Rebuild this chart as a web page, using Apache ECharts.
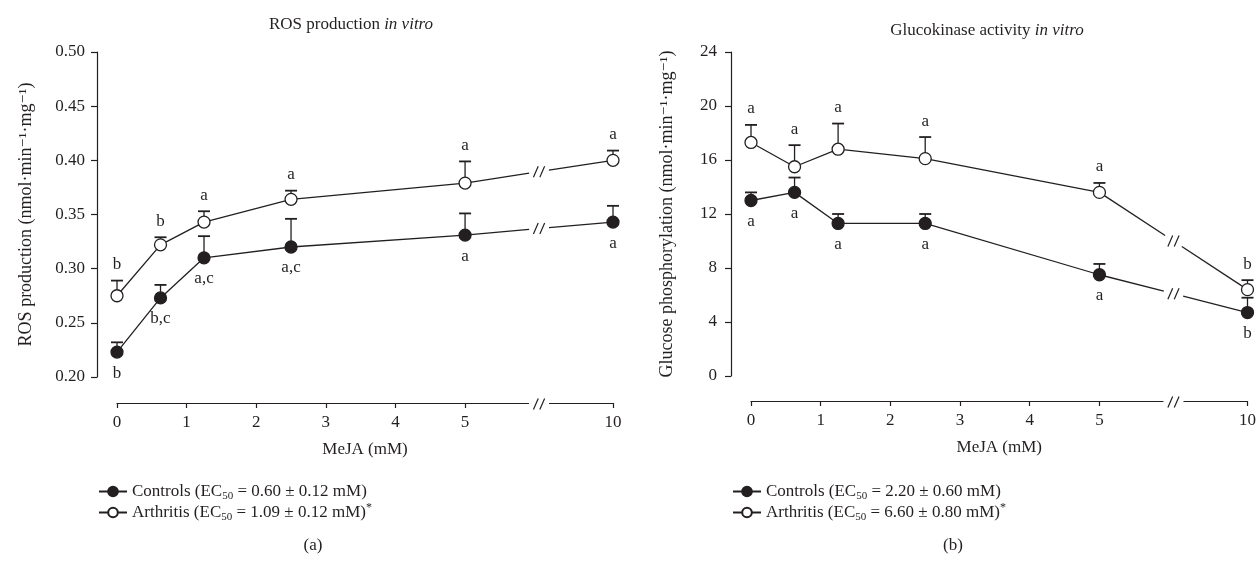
<!DOCTYPE html>
<html><head><meta charset="utf-8">
<script src="https://cdn.jsdelivr.net/npm/echarts@6/dist/echarts.min.js"></script>
<style>html,body{margin:0;padding:0;background:#fff}#c{width:1259px;height:573px}</style>
</head><body><div id="c"></div>
<script>
// ---------- data ----------
const doses = [0, 0.625, 1.25, 2.5, 5, 10];              // MeJA (mM)
const xTickValues = [0, 1, 2, 3, 4, 5, 10];
const xTickLabels = ['0', '1', '2', '3', '4', '5', '10'];

const rosControls      = [0.223, 0.273, 0.310, 0.320, 0.331, 0.343];
const rosControlsErr   = [0.009, 0.012, 0.020, 0.026, 0.020, 0.015];
const rosArthritis     = [0.275, 0.322, 0.343, 0.364, 0.379, 0.400];
const rosArthritisErr  = [0.014, 0.007, 0.010, 0.008, 0.020, 0.009];
const rosControlsLetters  = ['b', 'b,c', 'a,c', 'a,c', 'a', 'a'];
const rosArthritisLetters = ['b', 'b', 'a', 'a', 'a', 'a'];
const rosYTicks = [0.20, 0.25, 0.30, 0.35, 0.40, 0.45, 0.50];

const gkControls      = [13.0, 13.6, 11.3, 11.3, 7.5, 4.7];
const gkControlsErr   = [0.6, 1.1, 0.7, 0.7, 0.8, 1.1];
const gkArthritis     = [17.3, 15.5, 16.8, 16.1, 13.6, 6.4];
const gkArthritisErr  = [1.3, 1.6, 1.9, 1.6, 0.7, 0.7];
const gkControlsLetters  = ['a', 'a', 'a', 'a', 'a', 'b'];
const gkArthritisLetters = ['a', 'a', 'a', 'a', 'a', 'b'];
const gkYTicks = [0, 4, 8, 12, 16, 20, 24];

const groupNames = ['Controls', 'Arthritis'];
const rosEC50 = ['0.60 ± 0.12', '1.09 ± 0.12'];
const gkEC50  = ['2.20 ± 0.60', '6.60 ± 0.80'];
const significant = [false, true];

// ---------- broken x axis mapping ----------
const BREAK_FROM = 5;        // last dose before the break
const FAR_DOSE = 10;         // dose after the break
const FAR_POS = 7.125;       // where dose 10 sits on the compressed axis
const BREAK_MID = (BREAK_FROM + FAR_POS) / 2;
function axisPos(d) { return d <= BREAK_FROM ? d : FAR_POS + (d - FAR_DOSE); }
function posLabel(v) {
  for (let i = 0; i < xTickValues.length; i++) {
    if (Math.abs(axisPos(xTickValues[i]) - v) < 1e-6) return xTickLabels[i];
  }
  return '';
}

const INK = '#231f20';
const FONT = "'Liberation Serif','DejaVu Serif',serif";
const FS = 17;

const panels = [
  {
    key: 'ROS', grid: {left: 117, top: 52, width: 496, height: 325},
    yTicks: rosYTicks, yFmt: v => v.toFixed(2), yName: 'ROS production (nmol·min⁻¹·mg⁻¹)',
    yNameGap: 62, yLabelMargin: 12, xOffset: 26,
    controls: rosControls, controlsErr: rosControlsErr, controlsLetters: rosControlsLetters,
    arthritis: rosArthritis, arthritisErr: rosArthritisErr, arthritisLetters: rosArthritisLetters,
    ec50: rosEC50
  },
  {
    key: 'GK', grid: {left: 751, top: 52, width: 497, height: 324},
    yTicks: gkYTicks, yFmt: v => String(v), yName: 'Glucose phosphorylation (nmol·min⁻¹·mg⁻¹)',
    yNameGap: 55, yLabelMargin: 14, xOffset: 25,
    controls: gkControls, controlsErr: gkControlsErr, controlsLetters: gkControlsLetters,
    arthritis: gkArthritis, arthritisErr: gkArthritisErr, arthritisLetters: gkArthritisLetters,
    ec50: gkEC50
  }
];

function errorBarSeries(pi, vals, errs, letters, above) {
  return {
    type: 'custom', xAxisIndex: pi, yAxisIndex: pi, z: 1, clip: false, silent: true,
    data: doses.map((d, i) => [axisPos(d), vals[i], errs[i]]),
    renderItem: function (params, api) {
      const x = api.value(0), y = api.value(1), e = api.value(2);
      const p = api.coord([x, y]);
      const t = api.coord([x, y + e]);
      const letter = letters[params.dataIndex];
      return {
        type: 'group',
        children: [
          {type: 'line', shape: {x1: p[0], y1: p[1], x2: t[0], y2: t[1]}, style: {stroke: INK, lineWidth: 1.3}},
          {type: 'line', shape: {x1: t[0] - 6, y1: t[1], x2: t[0] + 6, y2: t[1]}, style: {stroke: INK, lineWidth: 1.8}},
          {type: 'text', style: {text: letter, x: p[0], y: above ? t[1] - 16 : p[1] + 21,
            align: 'center', verticalAlign: 'middle', fontFamily: FONT, fontSize: FS, fill: INK}}
        ]
      };
    }
  };
}

function slashes(cx, cy) {
  return [-3.2, 3.2].map(dx => ({
    type: 'line', shape: {x1: cx + dx - 2.4, y1: cy + 5.5, x2: cx + dx + 2.4, y2: cy - 5.5},
    style: {stroke: INK, lineWidth: 1.2}
  }));
}

function breakSeries(pi, panel) {
  const n = doses.length;
  const data = [panel.controls, panel.arthritis].map(v => [axisPos(doses[n - 2]), v[n - 2], axisPos(doses[n - 1]), v[n - 1]]);
  return {
    type: 'custom', xAxisIndex: pi, yAxisIndex: pi, z: 2, clip: false, silent: true,
    data: data,
    renderItem: function (params, api) {
      const a = api.coord([api.value(0), api.value(1)]);
      const b = api.coord([api.value(2), api.value(3)]);
      const dx = b[0] - a[0], dy = b[1] - a[1], L = Math.hypot(dx, dy);
      const ux = dx / L, uy = dy / L;
      const m = [(a[0] + b[0]) / 2, (a[1] + b[1]) / 2];
      const g = 10;
      return {
        type: 'group',
        children: [
          {type: 'line', shape: {x1: a[0], y1: a[1], x2: m[0] - g * ux, y2: m[1] - g * uy}, style: {stroke: INK, lineWidth: 1.3}},
          {type: 'line', shape: {x1: m[0] + g * ux, y1: m[1] + g * uy, x2: b[0], y2: b[1]}, style: {stroke: INK, lineWidth: 1.3}}
        ].concat(slashes(m[0], m[1]))
      };
    }
  };
}

function axisBreakSeries(pi, panel) {
  const yMin = panel.yTicks[0];
  return {
    type: 'custom', xAxisIndex: pi, yAxisIndex: pi, z: 5, clip: false, silent: true,
    data: [[BREAK_MID, yMin]],
    renderItem: function (params, api) {
      const p = api.coord([api.value(0), api.value(1)]);
      const y = p[1] + panel.xOffset;
      return {
        type: 'group',
        children: [
          {type: 'rect', shape: {x: p[0] - 10, y: y - 3, width: 20, height: 6}, style: {fill: '#fff'}}
        ].concat(slashes(p[0], y + 1))
      };
    }
  };
}

function lineSeries(pi, name, vals, filled) {
  const pts = doses.map((d, i) => [axisPos(d), vals[i]]);
  const data = pts.slice(0, -1).concat([[BREAK_MID, '-'], pts[pts.length - 1]]);
  return {
    name: name, type: 'line', xAxisIndex: pi, yAxisIndex: pi, z: 3, clip: false,
    data: data, symbol: 'circle', symbolSize: 12, showAllSymbol: true, connectNulls: false,
    lineStyle: {color: INK, width: 1.3},
    itemStyle: {color: filled ? INK : '#fff', borderColor: INK, borderWidth: 1.3},
    emphasis: {disabled: true}, animation: false
  };
}

const grids = [], xAxes = [], yAxes = [], series = [], legends = [];
panels.forEach((pn, pi) => {
  grids.push(Object.assign({}, pn.grid));
  xAxes.push({
    type: 'value', gridIndex: pi, min: 0, max: FAR_POS, offset: pn.xOffset, position: 'bottom',
    name: 'MeJA (mM)', nameLocation: 'middle', nameGap: 38,
    nameTextStyle: {fontFamily: FONT, fontSize: FS, color: INK},
    axisLine: {show: true, onZero: false, lineStyle: {color: INK, width: 1.2}},
    axisTick: {show: true, length: 5, lineStyle: {color: INK, width: 1.2}, customValues: xTickValues.map(axisPos)},
    axisLabel: {fontFamily: FONT, fontSize: FS, color: INK, margin: 11, customValues: xTickValues.map(axisPos), formatter: posLabel},
    splitLine: {show: false}
  });
  yAxes.push({
    type: 'value', gridIndex: pi, min: pn.yTicks[0], max: pn.yTicks[pn.yTicks.length - 1],
    interval: pn.yTicks[1] - pn.yTicks[0], offset: 20, position: 'left',
    name: pn.yName, nameLocation: 'middle', nameRotate: 90, nameGap: pn.yNameGap,
    nameTextStyle: {fontFamily: FONT, fontSize: 18, color: INK},
    axisLine: {show: true, onZero: false, lineStyle: {color: INK, width: 1.2}},
    axisTick: {show: true, length: 6, lineStyle: {color: INK, width: 1.2}},
    axisLabel: {fontFamily: FONT, fontSize: FS, color: INK, margin: pn.yLabelMargin, formatter: pn.yFmt},
    splitLine: {show: false}
  });
  const nC = pn.key + ' ' + groupNames[0], nA = pn.key + ' ' + groupNames[1];
  series.push(errorBarSeries(pi, pn.controls, pn.controlsErr, pn.controlsLetters, false));
  series.push(errorBarSeries(pi, pn.arthritis, pn.arthritisErr, pn.arthritisLetters, true));
  series.push(breakSeries(pi, pn));
  series.push(axisBreakSeries(pi, pn));
  series.push(lineSeries(pi, nC, pn.controls, true));
  series.push(lineSeries(pi, nA, pn.arthritis, false));
  const texts = {};
  [nC, nA].forEach((n, gi) => {
    texts[n] = '{t|' + groupNames[gi] + ' (EC}{s|50}{t| = ' + pn.ec50[gi] + ' mM)}' + (significant[gi] ? '{a|*}' : '');
  });
  legends.push({
    data: [nC, nA], orient: 'vertical', left: pi === 0 ? 93 : 727, top: 478,
    itemWidth: 28, itemHeight: 12, itemGap: 0, selectedMode: false,
    formatter: n => texts[n],
    textStyle: {
      fontFamily: FONT, fontSize: FS, color: INK,
      rich: {
        t: {fontFamily: FONT, fontSize: FS, color: INK, lineHeight: 21},
        s: {fontFamily: FONT, fontSize: 11, color: INK, verticalAlign: 'bottom', lineHeight: 21},
        a: {fontFamily: FONT, fontSize: 12, color: INK, verticalAlign: 'top', lineHeight: 21}
      }
    }
  });
});

const chart = echarts.init(document.getElementById('c'), null, {renderer: 'canvas'});
chart.setOption({
  backgroundColor: '#fff',
  animation: false,
  grid: grids, xAxis: xAxes, yAxis: yAxes, series: series, legend: legends,
  graphic: [
    {type: 'text', x: 351, y: 25, style: {text: 'ROS production {i|in vitro}', align: 'center', verticalAlign: 'middle',
      fontFamily: FONT, fontSize: FS, fill: INK, rich: {i: {fontFamily: FONT, fontSize: FS, fontStyle: 'italic', color: INK}}}},
    {type: 'text', x: 987, y: 31, style: {text: 'Glucokinase activity {i|in vitro}', align: 'center', verticalAlign: 'middle',
      fontFamily: FONT, fontSize: FS, fill: INK, rich: {i: {fontFamily: FONT, fontSize: FS, fontStyle: 'italic', color: INK}}}},
    {type: 'text', x: 313, y: 546, style: {text: '(a)', align: 'center', verticalAlign: 'middle', fontFamily: FONT, fontSize: FS, fill: INK}},
    {type: 'text', x: 953, y: 546, style: {text: '(b)', align: 'center', verticalAlign: 'middle', fontFamily: FONT, fontSize: FS, fill: INK}}
  ]
});
</script>
</body></html>
